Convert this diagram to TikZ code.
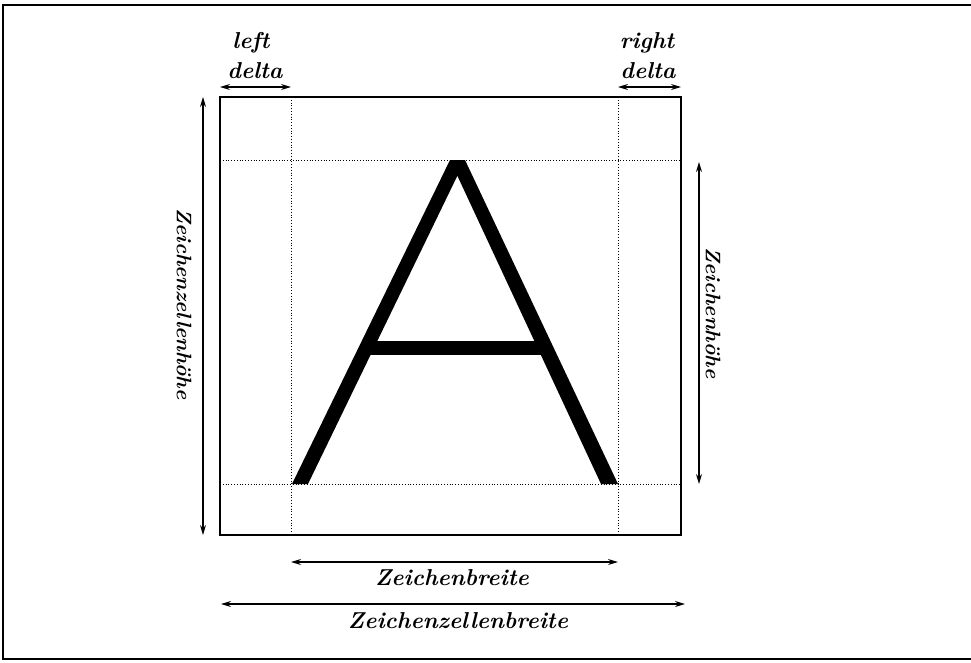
\documentclass[tikz,border=0pt]{standalone}
\usetikzlibrary{arrows.meta}
\begin{document}
\begin{tikzpicture}[x=1pt,y=-1pt,
  dim/.style={{Stealth[length=10pt,width=6pt]}-{Stealth[length=10pt,width=6pt]}, line width=1.2pt},
  guide/.style={dotted, line width=0.8pt},
  lbl/.style={font=\fontsize{23}{26}\selectfont\bfseries\itshape, inner sep=0pt},
  vlbl/.style={font=\fontsize{21}{24}\selectfont\bfseries\itshape, inner sep=0pt, rotate=-90},
  cell/.style={draw, line width=1.5pt},
  frame/.style={line width=1.5pt},
  glyph/.style={fill=black}]
\useasboundingbox (0,0) rectangle (971,662);
% outer frame
\coordinate (f1) at (971,5);
\coordinate (f2) at (3,5);
\coordinate (f3) at (3,659);
\coordinate (f4) at (971,659);
\draw[frame] (f1) -- (f2) -- (f3) -- (f4);
% character cell
\coordinate (c1) at (220,97);
\coordinate (c2) at (681,535);
\draw[cell] (c1) rectangle (c2);
% guide lines
\coordinate (gl1) at (291,97);  \coordinate (gl2) at (291,535);
\coordinate (gr1) at (618,97);  \coordinate (gr2) at (618,535);
\coordinate (gt1) at (220,160); \coordinate (gt2) at (681,160);
\coordinate (gb1) at (220,484); \coordinate (gb2) at (681,484);
\draw[guide] (gl1) -- (gl2);
\draw[guide] (gr1) -- (gr2);
\draw[guide] (gt1) -- (gt2);
\draw[guide] (gb1) -- (gb2);
% the letter A
\fill[glyph] (292,484) -- (308,484) -- (465,160) -- (450,160) -- cycle;
\fill[glyph] (450,160) -- (465,160) -- (618,484) -- (601,484) -- cycle;
\fill[glyph] (365,341) rectangle (545,355);
% left delta
\coordinate (ld1) at (220,87); \coordinate (ld2) at (291,87);
\draw[dim] (ld1) -- (ld2);
\node[lbl, anchor=base] (ldt1) at (251,48) {left};
\node[lbl, anchor=base] (ldt2) at (255,78) {delta};
% right delta
\coordinate (rd1) at (618,87); \coordinate (rd2) at (681,87);
\draw[dim] (rd1) -- (rd2);
\node[lbl, anchor=base] (rdt1) at (647,48) {right};
\node[lbl, anchor=base] (rdt2) at (648,78) {delta};
% Zeichenzellenhoehe
\coordinate (zh1) at (203,97); \coordinate (zh2) at (203,535);
\draw[dim] (zh1) -- (zh2);
\node[vlbl] (zht) at (184,304) {Zeichenzellenhöhe};
% Zeichenhoehe
\coordinate (ch1) at (699,162); \coordinate (ch2) at (699,484);
\draw[dim] (ch1) -- (ch2);
\node[vlbl] (cht) at (713,313) {Zeichenhöhe};
% Zeichenbreite
\coordinate (cb1) at (291,562); \coordinate (cb2) at (618,562);
\draw[dim] (cb1) -- (cb2);
\node[lbl] (cbt) at (452,578) {Zeichenbreite};
% Zeichenzellenbreite
\coordinate (zb1) at (221,604); \coordinate (zb2) at (685,604);
\draw[dim] (zb1) -- (zb2);
\node[lbl] (zbt) at (458,621) {Zeichenzellenbreite};
\end{tikzpicture}
\end{document}
